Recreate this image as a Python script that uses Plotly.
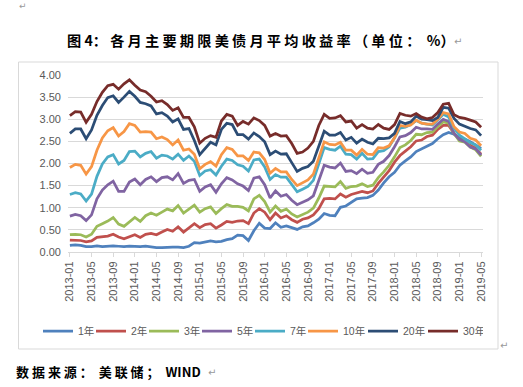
import plotly.graph_objects as go

months = [f"{y}-{m:02d}" for y in range(2013, 2020) for m in range(1, 13)][:77]

y1 = [0.15,0.16,0.15,0.12,0.12,0.14,0.12,0.13,0.14,0.13,0.12,0.13,
      0.12,0.12,0.13,0.11,0.10,0.10,0.11,0.11,0.11,0.10,0.13,0.21,
      0.20,0.22,0.25,0.23,0.24,0.28,0.30,0.38,0.37,0.26,0.48,0.65,
      0.54,0.53,0.66,0.56,0.59,0.55,0.51,0.57,0.59,0.66,0.74,0.87,
      0.83,0.82,1.01,1.04,1.12,1.20,1.22,1.23,1.28,1.40,1.56,1.70,
      1.80,1.96,2.06,2.15,2.27,2.33,2.39,2.45,2.56,2.65,2.70,2.66,
      2.58,2.55,2.49,2.42,2.34]
y2 = [0.27,0.27,0.26,0.23,0.25,0.33,0.34,0.36,0.40,0.34,0.30,0.34,
      0.39,0.33,0.40,0.42,0.39,0.45,0.51,0.47,0.57,0.45,0.54,0.64,
      0.55,0.62,0.64,0.54,0.61,0.69,0.67,0.70,0.71,0.64,0.88,0.98,
      0.90,0.73,0.88,0.77,0.82,0.73,0.67,0.74,0.77,0.84,0.98,1.20,
      1.21,1.20,1.31,1.24,1.30,1.34,1.37,1.34,1.38,1.55,1.70,1.84,
      2.03,2.18,2.28,2.38,2.51,2.53,2.61,2.64,2.77,2.86,2.86,2.68,
      2.54,2.50,2.41,2.34,2.21]
y3 = [0.39,0.40,0.39,0.34,0.40,0.58,0.64,0.70,0.78,0.63,0.58,0.69,
      0.78,0.69,0.82,0.88,0.83,0.90,0.97,0.93,1.05,0.88,0.96,1.06,
      0.90,0.98,1.02,0.87,0.98,1.07,1.03,1.03,1.01,0.93,1.20,1.28,
      1.14,0.90,1.04,0.92,0.97,0.86,0.79,0.85,0.90,0.99,1.22,1.49,
      1.48,1.47,1.59,1.44,1.48,1.49,1.54,1.48,1.51,1.68,1.81,1.96,
      2.15,2.36,2.42,2.52,2.66,2.65,2.70,2.71,2.84,2.94,2.91,2.68,
      2.51,2.48,2.37,2.31,2.16]
y5 = [0.81,0.85,0.82,0.71,0.84,1.20,1.40,1.52,1.60,1.37,1.37,1.58,
      1.65,1.52,1.64,1.70,1.59,1.68,1.70,1.63,1.77,1.55,1.62,1.64,
      1.37,1.47,1.52,1.35,1.54,1.68,1.63,1.54,1.49,1.39,1.67,1.70,
      1.52,1.22,1.38,1.26,1.30,1.17,1.07,1.13,1.18,1.27,1.60,1.96,
      1.92,1.90,2.01,1.82,1.84,1.77,1.87,1.78,1.80,1.98,2.05,2.18,
      2.38,2.60,2.63,2.70,2.82,2.78,2.78,2.77,2.89,3.00,2.95,2.68,
      2.54,2.49,2.37,2.33,2.19]
y7 = [1.30,1.34,1.31,1.15,1.31,1.71,1.99,2.15,2.20,1.99,2.07,2.27,
      2.28,2.15,2.23,2.27,2.12,2.19,2.17,2.10,2.21,2.07,2.17,2.05,
      1.73,1.83,1.86,1.74,1.94,2.10,2.07,1.97,1.94,1.83,2.08,2.10,
      1.92,1.64,1.75,1.69,1.69,1.53,1.36,1.42,1.48,1.62,2.01,2.36,
      2.32,2.30,2.39,2.21,2.20,2.10,2.23,2.10,2.11,2.27,2.29,2.38,
      2.58,2.80,2.82,2.88,2.97,2.91,2.89,2.87,2.98,3.11,3.05,2.80,
      2.64,2.56,2.47,2.42,2.30]
y10 = [1.91,1.98,1.96,1.76,1.93,2.30,2.58,2.74,2.81,2.62,2.72,2.90,
       2.86,2.71,2.72,2.71,2.56,2.60,2.54,2.42,2.53,2.30,2.33,2.21,
       1.88,1.98,2.04,1.94,2.20,2.36,2.32,2.17,2.17,2.07,2.26,2.24,
       2.09,1.78,1.89,1.81,1.81,1.64,1.50,1.56,1.63,1.76,2.14,2.49,
       2.43,2.42,2.48,2.30,2.30,2.19,2.32,2.21,2.20,2.36,2.35,2.40,
       2.58,2.86,2.84,2.87,2.98,2.91,2.89,2.89,3.00,3.15,3.12,2.83,
       2.71,2.68,2.57,2.53,2.40]
y20 = [2.68,2.78,2.78,2.56,2.76,3.09,3.31,3.49,3.53,3.38,3.50,3.63,
       3.52,3.38,3.35,3.30,3.12,3.15,3.07,2.94,3.01,2.77,2.79,2.52,
       2.20,2.34,2.48,2.42,2.77,2.91,2.88,2.65,2.65,2.55,2.69,2.61,
       2.49,2.20,2.28,2.21,2.22,2.02,1.82,1.89,1.93,2.05,2.40,2.73,
       2.64,2.64,2.70,2.53,2.59,2.46,2.55,2.48,2.44,2.57,2.56,2.58,
       2.68,2.95,2.90,2.94,3.07,3.00,2.99,2.97,3.04,3.27,3.25,3.02,
       2.89,2.84,2.79,2.76,2.63]
y30 = [3.08,3.17,3.16,2.93,3.11,3.40,3.61,3.76,3.79,3.68,3.80,3.89,
       3.77,3.66,3.62,3.52,3.39,3.42,3.33,3.20,3.26,3.04,3.04,2.83,
       2.46,2.57,2.63,2.59,2.96,3.11,3.07,2.86,2.95,2.89,3.03,2.97,
       2.86,2.62,2.68,2.62,2.63,2.45,2.23,2.26,2.35,2.50,2.86,3.11,
       3.02,3.03,3.08,2.94,2.96,2.80,2.88,2.80,2.78,2.88,2.80,2.77,
       2.88,3.13,3.09,3.07,3.13,3.05,3.01,3.04,3.15,3.34,3.36,3.10,
       3.04,3.02,2.98,2.94,2.82]

names = ["1年", "2年", "3年", "5年", "7年", "10年", "20年", "30年"]
series = [y1, y2, y3, y5, y7, y10, y20, y30]
colors = ["#4F81BD", "#C0504D", "#9BBB59", "#8064A2", "#4BACC6", "#F79646", "#2C4D75", "#772C2A"]

tick_labels = months[::4]

L, R, T, B = 68, 483, 75, 252
W, H = 523, 387
pw, ph = R - L, B - T
LEG_MAX = L + pw  # legend max width when anchored left of plot area

def px(x):
    return (x - L) / pw

def py(y):
    return (B - y) / ph

fig = go.Figure()
for n, s, c in zip(names, series, colors):
    ew = (53 if len(n) == 2 else 60) / LEG_MAX
    fig.add_trace(go.Scatter(x=months, y=s, name=n, mode="lines",
                             line=dict(color=c, width=2.75), legendwidth=ew))

axis_font = dict(family="Liberation Sans, Arial, sans-serif", size=11, color="#595959")

fig.update_layout(
    width=W, height=H,
    margin=dict(l=L, r=W - R, t=T, b=H - B, autoexpand=False),
    paper_bgcolor="white", plot_bgcolor="white",
    showlegend=True,
    legend=dict(orientation="h", x=px(38), y=py(331), xanchor="left", yanchor="middle",
                font=dict(family="Liberation Sans, Noto Sans CJK SC, sans-serif", size=10.5, color="#595959"),
                itemwidth=30, entrywidthmode="fraction", bgcolor="rgba(0,0,0,0)"),
    xaxis=dict(type="category", range=[-0.35, 76.35], tickmode="array",
               tickvals=tick_labels, ticktext=tick_labels, tickangle=-90,
               tickfont=axis_font, showgrid=False, showline=True, linecolor="#D9D9D9",
               linewidth=1, ticks="outside", ticklen=4, tickcolor="#D9D9D9", fixedrange=True),
    yaxis=dict(range=[0, 4], dtick=0.5, tickformat=".2f", tickfont=axis_font,
               showgrid=True, gridcolor="#D9D9D9", gridwidth=1, zeroline=False,
               showline=False, ticks="", ticklabelstandoff=6, fixedrange=True),
    shapes=[dict(type="rect", xref="paper", yref="paper",
                 x0=px(18.5), x1=px(498), y0=py(349), y1=py(62),
                 line=dict(color="#D9D9D9", width=1), fillcolor="rgba(0,0,0,0)", layer="below")],
)

title_text = "图 4： 各 月 主 要 期 限 美 债 月 平 均 收 益 率 （ 单 位 ：  %）"
fig.add_annotation(text="<b>" + title_text + "</b>", xref="paper", yref="paper",
                   x=px(65), y=py(40), xanchor="left", yanchor="middle", showarrow=False,
                   font=dict(family="Noto Sans CJK SC", size=14.2, color="#000000"))
fig.add_annotation(text="↵", xref="paper", yref="paper", x=px(452), y=py(41),
                   xanchor="left", yanchor="middle", showarrow=False,
                   font=dict(family="DejaVu Sans", size=10, color="#999999"))
fig.add_annotation(text="↵", xref="paper", yref="paper", x=px(17), y=py(6),
                   xanchor="left", yanchor="middle", showarrow=False,
                   font=dict(family="DejaVu Sans", size=9, color="#999999"))
fig.add_annotation(text="↵", xref="paper", yref="paper", x=px(498), y=py(345),
                   xanchor="left", yanchor="middle", showarrow=False,
                   font=dict(family="DejaVu Sans", size=10, color="#999999"))
fig.add_annotation(text="<b>数 据 来 源 ：  美 联 储 ；  WIND</b>", xref="paper", yref="paper",
                   x=px(14), y=py(371), xanchor="left", yanchor="middle", showarrow=False,
                   font=dict(family="Noto Sans CJK SC", size=13, color="#000000"))
fig.add_annotation(text="↵", xref="paper", yref="paper", x=px(206), y=py(372),
                   xanchor="left", yanchor="middle", showarrow=False,
                   font=dict(family="DejaVu Sans", size=10, color="#999999"))

fig.write_html("out.html", config={"displayModeBar": False},
               post_script="document.body.style.margin='0';document.body.style.overflow='hidden';")
